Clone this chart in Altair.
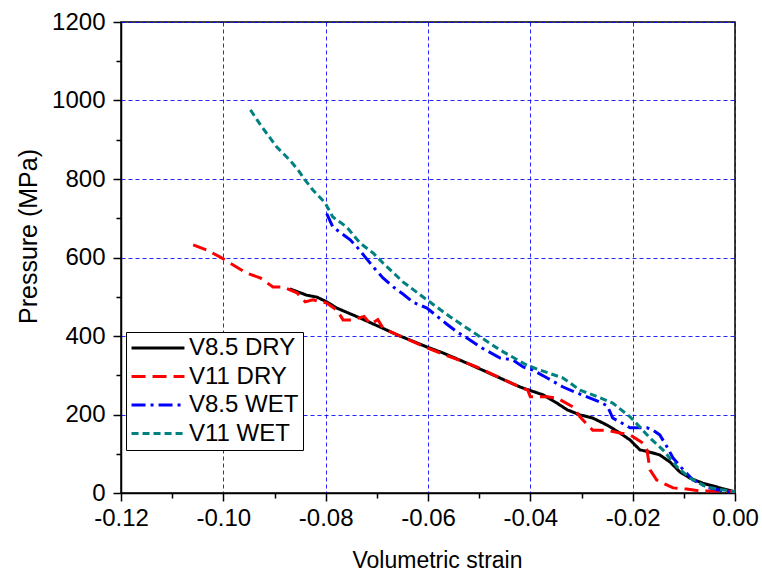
import altair as alt
import pandas as pd

# ---- data ----
series_names = ["V8.5 DRY", "V11 DRY", "V8.5 WET", "V11 WET"]
series_colors = ["#000000", "#ff0000", "#0000ff", "#008080"]
series_dashes = [[1, 0], [14, 7], [14, 5, 3, 5], [7, 4]]

dry85_x = [-0.0870, -0.0837, -0.0817, -0.0798, -0.0778, -0.0733, -0.0694, -0.0655, -0.0602, -0.0571,
           -0.0524, -0.0473, -0.0420, -0.0375, -0.0348, -0.0328, -0.0303, -0.0278, -0.0250, -0.0225,
           -0.0205, -0.0186, -0.0166, -0.0147, -0.0127, -0.0108, -0.0088, -0.0063, -0.0029, 0.0]
dry85_y = [520, 504, 499, 487, 471, 446, 423, 400, 372, 357,
           331, 301, 270, 250, 229, 212, 199, 191, 173, 153,
           135, 110, 104, 97, 79, 54, 38, 25, 13, 3]

dry11_x = [-0.1059, -0.1032, -0.1006, -0.0987, -0.0954, -0.0928, -0.0903, -0.0883, -0.0856, -0.0840,
           -0.0825, -0.0798, -0.0778, -0.0766, -0.0747, -0.0725, -0.0712, -0.0698, -0.0688, -0.0655,
           -0.0602, -0.0571, -0.0504, -0.0459, -0.0420, -0.0405, -0.0400, -0.0367, -0.0348, -0.0316,
           -0.0303, -0.0278, -0.0250, -0.0225, -0.0205, -0.0180, -0.0172, -0.0170, -0.0166, -0.0153,
           -0.0121, -0.0094, -0.0068, -0.0029, 0.0]
dry11_y = [632, 619, 601, 586, 560, 548, 525, 525, 510, 487,
           492, 484, 466, 441, 441, 450, 430, 442, 420, 400,
           370, 354, 321, 293, 270, 262, 245, 245, 242, 219,
           194, 160, 160, 153, 148, 127, 110, 92, 59, 33,
           13, 10, 5, 5, 3]

wet85_x = [-0.0798, -0.0786, -0.0752, -0.0739, -0.0707, -0.0688, -0.0668, -0.0649, -0.0629, -0.0602,
           -0.0563, -0.0543, -0.0518, -0.0498, -0.0459, -0.0434, -0.0414, -0.0395, -0.0367, -0.0336,
           -0.0303, -0.0264, -0.0250, -0.0244, -0.0239, -0.0225, -0.0205, -0.0172, -0.0160, -0.0147,
           -0.0133, -0.0121, -0.0101, -0.0082, -0.0055, -0.0016, 0.0]
wet85_y = [712, 678, 645, 627, 576, 548, 525, 507, 486, 471,
           430, 410, 390, 372, 344, 339, 321, 313, 293, 270,
           252, 232, 222, 206, 191, 181, 166, 166, 160, 148,
           118, 89, 59, 33, 15, 3, 2]

wet11_x = [-0.0947, -0.0928, -0.0896, -0.0870, -0.0854, -0.0840, -0.0825, -0.0801, -0.0786, -0.0759,
           -0.0733, -0.0707, -0.0688, -0.0649, -0.0602, -0.0557, -0.0504, -0.0459, -0.0407, -0.0381,
           -0.0336, -0.0303, -0.0278, -0.0239, -0.0205, -0.0186, -0.0166, -0.0141, -0.0113, -0.0088,
           -0.0055, -0.0024, 0.0]
wet11_y = [976, 939, 882, 848, 823, 797, 772, 739, 703, 678,
           637, 611, 586, 538, 492, 449, 403, 364, 326, 313,
           293, 262, 250, 229, 194, 168, 140, 110, 66, 38,
           15, 8, 3]

x_ticks = [-0.12, -0.10, -0.08, -0.06, -0.04, -0.02, 0.0]
x_minor = [-0.11, -0.09, -0.07, -0.05, -0.03, -0.01]
y_ticks = [0, 200, 400, 600, 800, 1000, 1200]
y_minor = [100, 300, 500, 700, 900, 1100]

# ---- table ----
rows = []
for name, xs, ys in zip(series_names,
                        [dry85_x, dry11_x, wet85_x, wet11_x],
                        [dry85_y, dry11_y, wet85_y, wet11_y]):
    for i, (xv, yv) in enumerate(zip(xs, ys)):
        rows.append({"series": name, "x": xv, "y": yv, "idx": i})
df = pd.DataFrame(rows)

FONT = "Liberation Sans"
xscale = alt.Scale(domain=[-0.12, 0.0], nice=False, zero=False)
yscale = alt.Scale(domain=[0, 1200], nice=False)

main = alt.Chart(df).mark_line(strokeWidth=3, strokeCap="butt").encode(
    x=alt.X("x:Q", scale=xscale,
            axis=alt.Axis(values=x_ticks, title="Volumetric strain",
                          labelExpr="replace(format(datum.value, '.2f'), '\u2212', '-')",
                          grid=True, tickSize=8, labelPadding=5, labelFlush=False,
                          labelOverlap=False,
                          titleX=316, titleY=74, titleBaseline="alphabetic",
                          titleAlign="center", titleFontSize=23)),
    y=alt.Y("y:Q", scale=yscale,
            axis=alt.Axis(values=y_ticks, title="Pressure (MPa)", format="d",
                          grid=True, tickSize=8, labelPadding=8, labelFlush=False,
                          labelOverlap=False,
                          titleX=-85, titleY=214, titleAngle=270,
                          titleBaseline="alphabetic", titleAlign="center",
                          titleFontSize=25)),
    color=alt.Color("series:N",
                    scale=alt.Scale(domain=series_names, range=series_colors),
                    legend=alt.Legend(title=None, orient="none", legendX=5, legendY=310)),
    strokeDash=alt.StrokeDash("series:N",
                              scale=alt.Scale(domain=series_names, range=series_dashes),
                              legend=alt.Legend(title=None, orient="none", legendX=5, legendY=310)),
    order="idx:Q",
)

minor = alt.Chart(df).mark_line(opacity=0).encode(
    x=alt.X("x:Q", scale=xscale,
            axis=alt.Axis(orient="bottom", values=x_minor, labels=False, grid=False,
                          domain=False, tickSize=5, title=None)),
    y=alt.Y("y:Q", scale=yscale,
            axis=alt.Axis(orient="left", values=y_minor, labels=False, grid=False,
                          domain=False, tickSize=5, title=None)),
    detail="series:N",
    order="idx:Q",
)

chart = alt.layer(main, minor).resolve_axis(x="independent", y="independent").properties(
    width=614, height=471,
    autosize=alt.AutoSizeParams(type="none"),
    padding={"left": 121, "top": 22, "right": 27, "bottom": 86},
).configure_view(
    stroke="#000000", strokeWidth=1.5
).configure_axis(
    domainColor="#000000", domainWidth=1.5,
    tickColor="#000000", tickWidth=1.5,
    labelFont=FONT, labelFontSize=24, labelColor="#000000",
    titleFont=FONT, titleFontWeight="normal", titleColor="#000000",
    gridColor="#0000ff", gridDash=[4, 3], gridWidth=1, gridOpacity=0.85,
).configure_legend(
    strokeColor="#000000", fillColor="#ffffff", padding=4,
    labelFont=FONT, labelFontSize=24, labelColor="#000000",
    symbolType="M-5,0H5", symbolSize=112, symbolStrokeWidth=3,
    symbolOffset=16, labelOffset=19, rowPadding=4.5,
)

chart.save("out.html", embed_options={"renderer": "svg", "actions": False})
